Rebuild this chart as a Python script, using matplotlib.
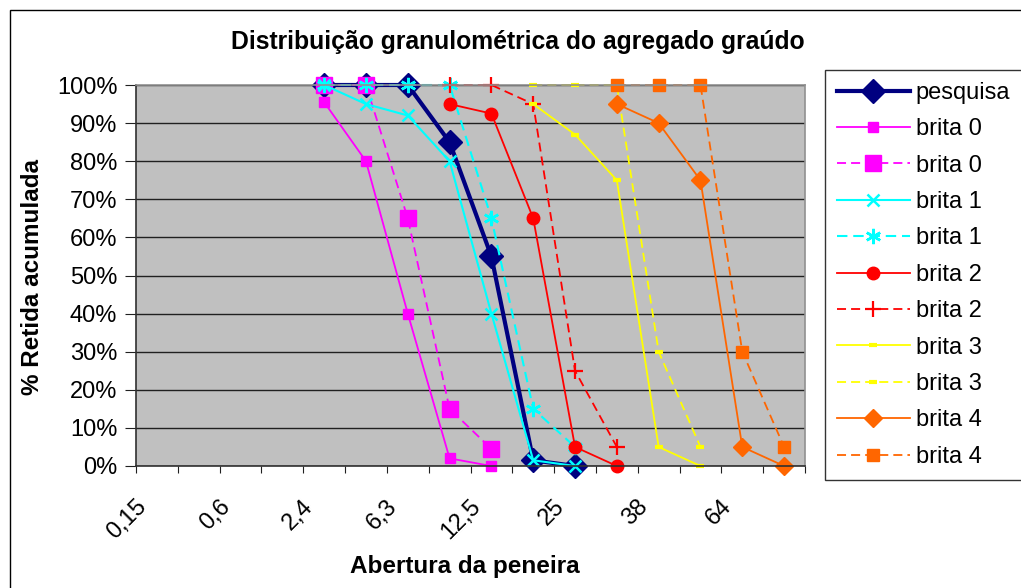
import numpy as np
import matplotlib
matplotlib.use('Agg')
import matplotlib.pyplot as plt
import matplotlib.transforms as mtransforms
from matplotlib.patches import Rectangle

plt.rcParams['font.family'] = ['Liberation Sans', 'DejaVu Sans']

N = np.nan
# peneiras (mm) - categorias do eixo x
sieves = ['0,15', '0,3', '0,6', '1,2', '2,4', '4,8', '6,3', '9,5',
          '12,5', '19', '25', '32', '38', '50', '64', '76']
shown = [0, 2, 4, 6, 8, 10, 12, 14]  # rótulos visíveis

# % retida acumulada
pesquisa = [N, N, N, N, 100, 100, 100, 85, 55, 1.5, 0, N, N, N, N, N]
brita0   = [N, N, N, N, 95.5, 80, 40, 2, 0, N, N, N, N, N, N, N]
brita0b  = [N, N, N, N, 100, 100, 65, 15, 4.5, N, N, N, N, N, N, N]
brita1   = [N, N, N, N, 100, 95, 92, 80, 40, 1.5, 0, N, N, N, N, N]
brita1b  = [N, N, N, N, 100, 100, 100, 100, 65, 15, 5, N, N, N, N, N]
brita2   = [N, N, N, N, N, N, N, 95, 92.5, 65, 5, 0, N, N, N, N]
brita2b  = [N, N, N, N, N, N, N, 100, 100, 95, 25, 5, N, N, N, N]
brita3   = [N, N, N, N, N, N, N, N, N, 95, 87, 75, 5, 0, N, N]
brita3b  = [N, N, N, N, N, N, N, N, N, 100, 100, 100, 30, 5, N, N]
brita4   = [N, N, N, N, N, N, N, N, N, N, N, 95, 90, 75, 5, 0]
brita4b  = [N, N, N, N, N, N, N, N, N, N, N, 100, 100, 100, 30, 5]

FS = 17
dash = (0, (5, 2.8))

fig = plt.figure(figsize=(10.21, 5.88), dpi=100)
W, H = 1021, 588
ax = fig.add_axes([136 / W, 1 - 466 / H, (805 - 136) / W, (466 - 85) / H])
ax.set_facecolor('#C0C0C0')

x = np.arange(len(sieves))
kw = dict(clip_on=False)

ax.plot(x, pesquisa, color='#000080', lw=3, marker='D', ms=12.5, label='pesquisa', **kw)
ax.plot(x, brita0, color='#FF00FF', lw=1.3, marker='s', ms=7, label='brita 0', **kw)
ax.plot(x, brita0b, color='#FF00FF', lw=1.3, ls=dash, marker='s', ms=12, label='brita 0', **kw)
ax.plot(x, brita1, color='#00FFFF', lw=1.5, marker='x', ms=9, mew=1.8, label='brita 1', **kw)
ax.plot(x, brita1b, color='#00FFFF', lw=1.5, ls=dash, marker=(6, 2, 0), ms=11, mew=1.8, label='brita 1', **kw)
ax.plot(x, brita2, color='#FF0000', lw=1.3, marker='o', ms=9, label='brita 2', **kw)
ax.plot(x, brita2b, color='#FF0000', lw=1.3, ls=dash, marker='+', ms=11, mew=1.6, label='brita 2', **kw)
ax.plot(x, brita3, color='#FFFF00', lw=1.3, marker='_', ms=6, mew=3, label='brita 3', **kw)
ax.plot(x, brita3b, color='#FFFF00', lw=1.3, ls=dash, marker='_', ms=6, mew=3, label='brita 3', **kw)
ax.plot(x, brita4, color='#FF6600', lw=1.3, marker='D', ms=9, label='brita 4', **kw)
ax.plot(x, brita4b, color='#FF6600', lw=1.3, ls=dash, marker='s', ms=8.5, label='brita 4', **kw)

ax.set_xlim(-0.5, len(sieves) - 0.5)
ax.set_ylim(0, 100)
ax.set_yticks(np.arange(0, 101, 10))
ax.set_yticklabels([f'{v}%' for v in range(0, 101, 10)], fontsize=FS)
ax.yaxis.grid(True, color='#202020', lw=1)
ax.set_axisbelow(True)

# categorias: marcas nas divisões, rótulos a 45° de duas em duas
ax.set_xticks(np.arange(-0.5, len(sieves)))
ax.set_xticklabels([])
ax.tick_params(axis='x', length=5, direction='out', color='#202020')
offset = mtransforms.ScaledTranslation(-0.14, -0.37, fig.dpi_scale_trans)
for i in shown:
    ax.text(i, 0, sieves[i], transform=ax.get_xaxis_transform() + offset,
            fontsize=FS, rotation=45, ha='right', va='center',
            rotation_mode='anchor')
ax.tick_params(axis='y', length=8, direction='out', color='#202020', pad=5.5)

for s in ['left', 'bottom']:
    ax.spines[s].set_color('#303030')
    ax.spines[s].set_linewidth(1.2)
for s in ['top', 'right']:
    ax.spines[s].set_color('#909090')
    ax.spines[s].set_linewidth(1.2)

fig.text(518 / W, 1 - 42 / H, 'Distribuição granulométrica do agregado graúdo',
         ha='center', va='center', fontsize=17.8, fontweight='bold')
fig.text(33 / W, 1 - 277 / H, '% Retida acumulada', rotation=90,
         ha='center', va='center', fontsize=17.5, fontweight='bold')
fig.text(465 / W, 1 - 566 / H, 'Abertura da peneira',
         ha='center', va='center', fontsize=17.5, fontweight='bold')

leg = ax.legend(loc='upper left', bbox_to_anchor=(825 / W, 1 - 70 / H),
                bbox_transform=fig.transFigure, fontsize=FS, frameon=True,
                fancybox=False, handlelength=3.1, labelspacing=0.61,
                borderpad=0.5, handletextpad=0.25, borderaxespad=0)
leg.get_frame().set_edgecolor('black')
leg.get_frame().set_linewidth(1)

fig.patches.append(Rectangle((10 / W, -0.5), 2, 1.5 - 10 / H, transform=fig.transFigure,
                             fill=False, ec='black', lw=1))

fig.savefig('out.png', dpi=100)
